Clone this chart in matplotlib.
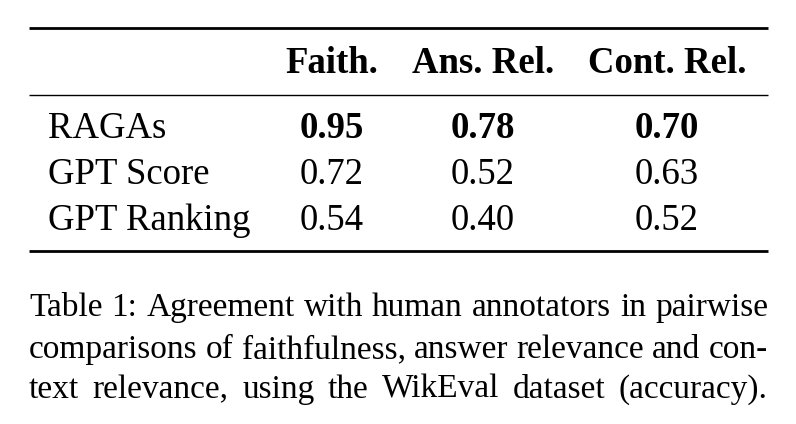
import matplotlib.pyplot as plt

# table contents
columns = ["Faith.", "Ans. Rel.", "Cont. Rel."]
methods = ["RAGAs", "GPT Score", "GPT Ranking"]
faith = [0.95, 0.72, 0.54]
ans_rel = [0.78, 0.52, 0.40]
cont_rel = [0.70, 0.63, 0.52]
caption = [
    "Table 1: Agreement with human annotators in pairwise",
    "comparisons of faithfulness, answer relevance and con-",
    "text relevance, using the WikEval dataset (accuracy).",
]

plt.rcParams['font.family'] = ['Liberation Serif', 'DejaVu Serif']

fig = plt.figure(figsize=(7.96, 4.24), dpi=100)
ax = fig.add_axes([0, 0, 1, 1])
ax.set_xlim(0, 796)
ax.set_ylim(424, 0)
ax.axis('off')

fs = 26.5
left, right = 29, 768
col_x = [332, 483, 667]

# rules
ax.plot([left, right], [28, 28], color='black', lw=2.0, solid_capstyle='butt')
ax.plot([left, right], [94.5, 94.5], color='black', lw=1.0, solid_capstyle='butt')
ax.plot([left, right], [250.5, 250.5], color='black', lw=2.0, solid_capstyle='butt')

# header
for x, c in zip(col_x, columns):
    ax.text(x, 73, c, ha='center', va='baseline', fontsize=fs, fontweight='bold')

# body
cols = [faith, ans_rel, cont_rel]
row_y = [138, 184, 230]
for i, (m, y) in enumerate(zip(methods, row_y)):
    ax.text(48, y, m, ha='left', va='baseline', fontsize=fs)
    for j, x in enumerate(col_x):
        vals = cols[j]
        best = max(vals)
        w = 'bold' if vals[i] == best else 'normal'
        ax.text(x, y, f"{vals[i]:.2f}", ha='center', va='baseline', fontsize=fs, fontweight=w)

# justified caption
renderer = fig.canvas.get_renderer()
cap_y = [316, 358, 398]
cap_fs = 24.0
for line, y in zip(caption, cap_y):
    words = line.split(' ')
    widths = []
    for wd in words:
        t = ax.text(0, 0, wd, fontsize=cap_fs)
        bb = t.get_window_extent(renderer=renderer)
        widths.append(bb.width)
        t.remove()
    gap = (right - left - sum(widths)) / (len(words) - 1)
    x = left
    for wd, w in zip(words, widths):
        ax.text(x, y, wd, ha='left', va='baseline', fontsize=cap_fs)
        x += w + gap

fig.savefig('out.png', dpi=100)
